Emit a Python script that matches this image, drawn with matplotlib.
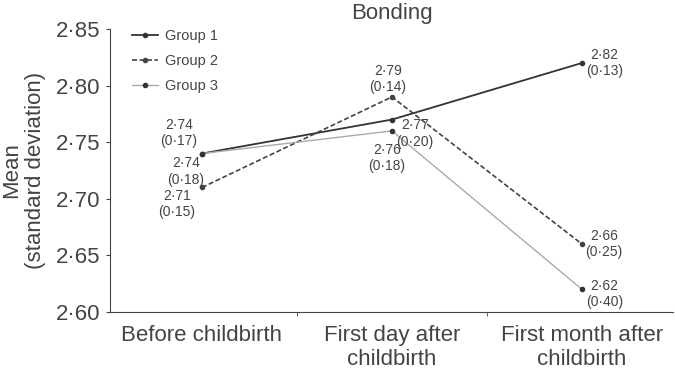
import matplotlib.pyplot as plt

plt.rcParams["font.family"] = ["Liberation Sans", "DejaVu Sans"]

categories = ["Before childbirth", "First day after\nchildbirth", "First month after\nchildbirth"]
group1 = [2.74, 2.77, 2.82]
group2 = [2.71, 2.79, 2.66]
group3 = [2.74, 2.76, 2.62]
sd1 = [0.17, 0.20, 0.13]
sd2 = [0.15, 0.14, 0.25]
sd3 = [0.18, 0.18, 0.40]
yticks = [2.60, 2.65, 2.70, 2.75, 2.80, 2.85]

fig = plt.figure(figsize=(6.75, 3.78), dpi=100)
ax = fig.add_axes([0.163, 0.1746, 0.834, 0.7487])

x = range(len(categories))
ax.plot(x, group1, color="#333333", lw=1.3, marker="o", ms=3, label="Group 1")
ax.plot(x, group2, color="#444444", lw=1.2, ls=(0, (3, 1.5)), marker="o", ms=3, label="Group 2")
ax.plot(x, group3, color="#aaaaaa", lw=1.0, marker="o", ms=3, mfc="#333333", mec="#333333", label="Group 3")

def lab(v, s):
    return f"{v:.2f}".replace(".", "\u00b7") + "\n(" + f"{s:.2f}".replace(".", "\u00b7") + ")"

tc = "#444444"
fs = 10
# offsets (points) of each label from its point
notes = [
    (0, group1[0], sd1[0], (-16.5, 15)),
    (0, group3[0], sd3[0], (-11.5, -13)),
    (0, group2[0], sd2[0], (-18, -12)),
    (1, group2[1], sd2[1], (-3, 13)),
    (1, group1[1], sd1[1], (16.5, -10)),
    (1, group3[1], sd3[1], (-3.5, -19.5)),
    (2, group1[2], sd1[2], (16, 0)),
    (2, group2[2], sd2[2], (16, 0)),
    (2, group3[2], sd3[2], (16, -3.5)),
]
for xi, v, s, off in notes:
    ax.annotate(lab(v, s), (xi, v), xytext=off, textcoords="offset points",
                ha="center", va="center", fontsize=fs, color=tc)

ax.set_xlim(-0.484, 2.479)
ax.set_ylim(2.60, 2.85)
ax.set_xticks(list(x))
ax.set_xticklabels(categories, fontsize=16, color=tc)
ax.set_xticks([0.5, 1.5], minor=True)
ax.tick_params(axis="x", which="major", length=0, pad=9)
ax.tick_params(axis="x", which="minor", length=3, color="#444444")
ax.set_yticks(yticks)
ax.set_yticklabels([f"{t:.2f}".replace(".", "\u00b7") for t in yticks], fontsize=16, color=tc)
ax.tick_params(axis="y", length=3, pad=4, color="#444444")
ax.spines["top"].set_visible(False)
ax.spines["right"].set_visible(False)
ax.spines["left"].set_color("#444444")
ax.spines["bottom"].set_color("#444444")
ax.set_ylabel("Mean\n(standard deviation)", fontsize=16, color=tc, labelpad=7)
ax.set_title("Bonding", fontsize=16, color=tc, pad=7.5)
ax.legend(loc="upper left", bbox_to_anchor=(0.015, 1.045), frameon=False, fontsize=10.5,
          handlelength=1.8, handletextpad=0.5, labelspacing=0.75, labelcolor=tc)

fig.savefig("out.png", dpi=100)
